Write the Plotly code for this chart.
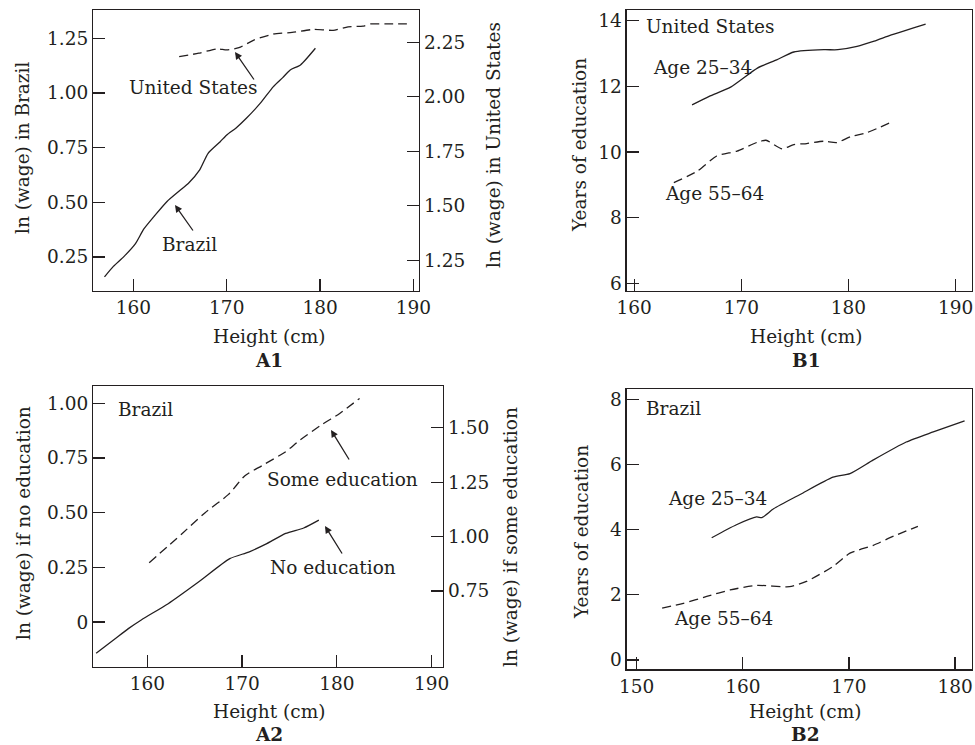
import plotly.graph_objects as go

W, H = 975, 745
FONT = "DejaVu Serif"
INK = "#231f20"
FS = 18.5

# ---------------- data ----------------
# Panel A1
a1_brazil_h = [156.9, 157.85, 159.0, 160.2, 161.1, 162.3, 163.6, 165.0, 165.9, 167.1, 168.0, 169.3, 170.0, 171.0, 172.1, 173.6, 175.0, 176.0, 176.8, 177.9, 179.5]
a1_brazil_w = [0.159, 0.207, 0.253, 0.31, 0.377, 0.44, 0.504, 0.555, 0.587, 0.648, 0.724, 0.777, 0.808, 0.84, 0.884, 0.953, 1.029, 1.07, 1.105, 1.128, 1.204]
a1_us_h = [164.9, 167.0, 169.0, 170.0, 171.3, 172.9, 175.0, 177.0, 179.3, 181.4, 183.0, 184.6, 185.4, 187.0, 189.3]
a1_us_w = [2.184, 2.20, 2.22, 2.215, 2.225, 2.26, 2.288, 2.295, 2.309, 2.305, 2.321, 2.324, 2.334, 2.334, 2.334]

# Panel B1 (United States)
b1_young_h = [165.4, 167.0, 169.0, 171.5, 173.3, 174.9, 177.7, 179.0, 180.8, 182.4, 184.0, 187.2]
b1_young_e = [11.44, 11.7, 11.98, 12.56, 12.81, 13.05, 13.12, 13.12, 13.22, 13.38, 13.57, 13.9]
b1_old_h = [163.7, 165.9, 167.7, 169.6, 171.5, 172.3, 173.8, 174.9, 176.1, 177.7, 178.9, 180.2, 181.7, 184.2]
b1_old_e = [9.07, 9.42, 9.88, 10.03, 10.30, 10.36, 10.10, 10.23, 10.26, 10.33, 10.29, 10.47, 10.59, 10.94]

# Panel A2 (Brazil)
a2_none_h = [154.6, 156.5, 158.0, 159.4, 162.2, 165.4, 168.7, 170.7, 172.5, 174.6, 176.5, 178.1]
a2_none_w = [-0.142, -0.08, -0.03, 0.011, 0.084, 0.183, 0.29, 0.32, 0.356, 0.405, 0.43, 0.466]
a2_some_h = [160.2, 163.6, 166.1, 168.6, 170.3, 172.1, 174.6, 176.0, 178.5, 180.3, 182.4]
a2_some_w = [0.880, 1.011, 1.11, 1.195, 1.28, 1.326, 1.39, 1.44, 1.517, 1.566, 1.635]

# Panel B2 (Brazil)
b2_young_h = [157.07, 159.4, 161.3, 161.8, 162.9, 165.4, 168.5, 170.1, 172.3, 175.4, 177.95, 180.9]
b2_young_e = [3.75, 4.15, 4.39, 4.37, 4.64, 5.08, 5.61, 5.72, 6.14, 6.69, 7.0, 7.34]
b2_old_h = [152.4, 154.4, 156.6, 158.8, 161.3, 164.4, 166.0, 168.5, 170.1, 172.3, 174.2, 176.5]
b2_old_e = [1.59, 1.74, 1.95, 2.15, 2.29, 2.25, 2.41, 2.87, 3.28, 3.52, 3.80, 4.10]

# tick labels
a1_x_ticks = [160, 170, 180, 190]
a1_yl_ticks = [0.25, 0.50, 0.75, 1.00, 1.25]
a1_yl_text = ["0.25", "0.50", "0.75", "1.00", "1.25"]
a1_yr_ticks = [1.25, 1.50, 1.75, 2.00, 2.25]
a1_yr_text = ["1.25", "1.50", "1.75", "2.00", "2.25"]
b1_x_ticks = [160, 170, 180, 190]
b1_y_ticks = [6, 8, 10, 12, 14]
a2_x_ticks = [160, 170, 180, 190]
a2_yl_ticks = [0, 0.25, 0.50, 0.75, 1.00]
a2_yl_text = ["0", "0.25", "0.50", "0.75", "1.00"]
a2_yr_ticks = [0.75, 1.00, 1.25, 1.50]
a2_yr_text = ["0.75", "1.00", "1.25", "1.50"]
b2_x_ticks = [150, 160, 170, 180]
b2_y_ticks = [0, 2, 4, 6, 8]

# ---------------- helpers ----------------
def px(x):
    return x / W

def py(y):
    return 1 - y / H

SOLID = dict(color=INK, width=1.3, shape="spline", smoothing=0.6)
DASH = dict(color=INK, width=1.3, dash="9px,5px", shape="spline", smoothing=0.6)

fig = go.Figure()
fig.add_trace(go.Scatter(x=a1_brazil_h, y=a1_brazil_w, mode="lines", line=SOLID, xaxis="x", yaxis="y"))
fig.add_trace(go.Scatter(x=a1_us_h, y=a1_us_w, mode="lines", line=DASH, xaxis="x", yaxis="y2"))
fig.add_trace(go.Scatter(x=b1_young_h, y=b1_young_e, mode="lines", line=SOLID, xaxis="x2", yaxis="y3"))
fig.add_trace(go.Scatter(x=b1_old_h, y=b1_old_e, mode="lines", line=DASH, xaxis="x2", yaxis="y3"))
fig.add_trace(go.Scatter(x=a2_none_h, y=a2_none_w, mode="lines", line=SOLID, xaxis="x3", yaxis="y4"))
fig.add_trace(go.Scatter(x=a2_some_h, y=a2_some_w, mode="lines", line=DASH, xaxis="x3", yaxis="y5"))
fig.add_trace(go.Scatter(x=b2_young_h, y=b2_young_e, mode="lines", line=SOLID, xaxis="x4", yaxis="y6"))
fig.add_trace(go.Scatter(x=b2_old_h, y=b2_old_e, mode="lines", line=DASH, xaxis="x4", yaxis="y6"))

AX = dict(showgrid=False, zeroline=False, showline=True, linecolor=INK, linewidth=1.3,
          ticks="inside", ticklen=12, tickwidth=1.2, tickcolor=INK, automargin=False,
          tickfont=dict(family=FONT, size=FS, color=INK), fixedrange=True)

def ax(**kw):
    d = dict(AX)
    d.update(kw)
    return d

dom_A1x = [px(93.3), px(419)]
dom_B1x = [px(626.7), px(971.7)]
dom_A2x = [px(93.3), px(443)]
dom_B2x = [px(626.7), px(971.7)]
dom_top = [py(290.7), py(10)]
dom_A2y = [py(666.5), py(386)]
dom_B2y = [py(669.3), py(389)]

fig.update_layout(
    template="none",
    width=W, height=H,
    margin=dict(l=0, r=0, t=0, b=0, pad=0),
    paper_bgcolor="white", plot_bgcolor="white",
    showlegend=False,
    font=dict(family=FONT, size=FS, color=INK),
    xaxis=ax(domain=dom_A1x, anchor="y", range=[155.7, 190.6], tickvals=a1_x_ticks, mirror=True),
    yaxis=ax(domain=dom_top, anchor="x", range=[0.096, 1.379], tickvals=a1_yl_ticks, ticktext=a1_yl_text),
    yaxis2=ax(overlaying="y", side="right", anchor="x", range=[1.111, 2.398], tickvals=a1_yr_ticks, ticktext=a1_yr_text),
    xaxis2=ax(domain=dom_B1x, anchor="y3", range=[159.3, 191.5], tickvals=b1_x_ticks, mirror=True),
    yaxis3=ax(domain=dom_top, anchor="x2", range=[5.775, 14.33], tickvals=b1_y_ticks, mirror=True),
    xaxis3=ax(domain=dom_A2x, anchor="y4", range=[154.3, 191.2], tickvals=a2_x_ticks, mirror=True),
    yaxis4=ax(domain=dom_A2y, anchor="x3", range=[-0.203, 1.079], tickvals=a2_yl_ticks, ticktext=a2_yl_text),
    yaxis5=ax(overlaying="y4", side="right", anchor="x3", range=[0.403, 1.692], tickvals=a2_yr_ticks, ticktext=a2_yr_text),
    xaxis4=ax(domain=dom_B2x, anchor="y6", range=[149.06, 181.57], tickvals=b2_x_ticks, mirror=True),
    yaxis6=ax(domain=dom_B2y, anchor="x4", range=[-0.285, 8.316], tickvals=b2_y_ticks, mirror=True),
)

anns = []

def text(t, x, y, xanchor="center", angle=0, bold=False):
    anns.append(dict(text=("<b>%s</b>" % t) if bold else t, x=px(x), y=py(y), xref="paper", yref="paper",
                     xanchor=xanchor, yanchor="middle", showarrow=False, textangle=angle,
                     borderpad=0, font=dict(family=FONT, size=FS, color=INK)))

def arrow(hx, hy, tx, ty):
    anns.append(dict(text="", x=px(hx), y=py(hy), xref="paper", yref="paper",
                     ax=tx - hx, ay=ty - hy, showarrow=True, arrowhead=2, arrowsize=1.1,
                     arrowwidth=1.3, arrowcolor=INK))

# A1
text("United States", 193, 88)
arrow(235, 52, 255, 81)
text("Brazil", 189, 244)
arrow(175, 205, 194, 232)
text("ln (wage) in Brazil", 23, 148, angle=-90)
text("ln (wage) in United States", 493, 145, angle=-90)
text("Height (cm)", 269, 336)
text("A1", 269, 360, bold=True)
# B1
text("United States", 645, 26, xanchor="left")
text("Age 25–34", 702, 67)
text("Age 55–64", 714, 194)
text("Years of education", 579, 145, angle=-90)
text("Height (cm)", 806, 336)
text("B1", 806, 360, bold=True)
# A2
text("Brazil", 117, 409, xanchor="left")
text("Some education", 342, 479)
arrow(331, 430, 350, 461)
text("No education", 333, 567)
arrow(325, 526, 343, 555)
text("ln (wage) if no education", 23, 523, angle=-90)
text("ln (wage) if some education", 510, 537, angle=-90)
text("Height (cm)", 269, 711)
text("A2", 269, 734, bold=True)
# B2
text("Brazil", 645, 408, xanchor="left")
text("Age 25–34", 717, 498)
text("Age 55–64", 723, 618)
text("Years of education", 581, 532, angle=-90)
text("Height (cm)", 805, 711)
text("B2", 805, 734, bold=True)

fig.update_layout(annotations=anns)
fig.write_html("out.html",
               config={"displayModeBar": False, "staticPlot": True},
               post_script="document.body.style.margin='0';document.body.style.overflow='hidden';")
